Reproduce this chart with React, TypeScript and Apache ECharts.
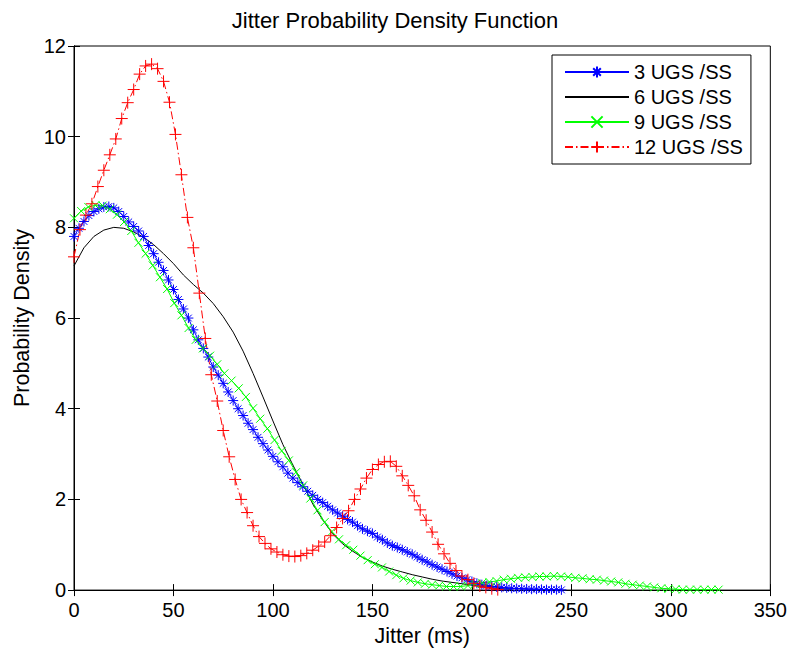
import React, { useEffect, useRef } from "react";
import * as echarts from "echarts";

// Series "3 UGS /SS": x step 2.5 ms starting at 0
const BLUE_STEP = 2.5;
const blueY = [
  7.8, 7.98, 8.13, 8.26, 8.35, 8.41, 8.45, 8.46, 8.43, 8.35,
  8.24, 8.12, 8.02, 7.92, 7.8, 7.6, 7.42, 7.23, 7.05, 6.84,
  6.63, 6.41, 6.2, 6.0, 5.74, 5.52, 5.33, 5.14, 4.92, 4.74,
  4.56, 4.37, 4.18, 4.0, 3.85, 3.68, 3.54, 3.37, 3.23, 3.09,
  2.95, 2.83, 2.72, 2.58, 2.47, 2.37, 2.28, 2.18, 2.09, 2.0,
  1.93, 1.85, 1.77, 1.7, 1.63, 1.56, 1.5, 1.42, 1.35, 1.3,
  1.25, 1.17, 1.11, 1.04, 0.98, 0.94, 0.89, 0.84, 0.79, 0.73,
  0.67, 0.62, 0.56, 0.51, 0.46, 0.41, 0.36, 0.31, 0.27, 0.23,
  0.19, 0.15, 0.12, 0.1, 0.08, 0.07, 0.06, 0.05, 0.04, 0.035,
  0.03, 0.025, 0.02, 0.02, 0.015, 0.01, 0.01, 0.01, 0.005,
];

// Series "6 UGS /SS": x step 5 ms starting at 0
const BLACK_STEP = 5;
const blackY = [
  7.15, 7.55, 7.8, 7.94, 8.0, 7.98, 7.9, 7.78, 7.62, 7.42,
  7.2, 6.95, 6.74, 6.55, 6.32, 6.03, 5.69, 5.27, 4.78, 4.26,
  3.73, 3.21, 2.76, 2.34, 1.9, 1.55, 1.24, 1.02, 0.86, 0.72,
  0.62, 0.53, 0.46, 0.4, 0.34, 0.29, 0.24, 0.2, 0.17, 0.14,
  0.11, 0.08, 0.05, 0.03, 0.02,
];

// Series "9 UGS /SS": x step 3.6 ms starting at 0
const GREEN_STEP = 3.6;
const greenY = [
  8.2, 8.36, 8.45, 8.49, 8.48, 8.4, 8.28, 8.12, 7.92, 7.66,
  7.42, 7.16, 6.9, 6.64, 6.33, 6.06, 5.78, 5.52, 5.33, 5.17,
  4.98, 4.78, 4.62, 4.45, 4.26, 4.01, 3.78, 3.56, 3.31, 3.07,
  2.86, 2.6, 2.31, 2.02, 1.76, 1.5, 1.29, 1.12, 0.99, 0.89,
  0.76, 0.66, 0.57, 0.5, 0.41, 0.33, 0.26, 0.21, 0.17, 0.14,
  0.12, 0.1, 0.08, 0.08, 0.08, 0.1, 0.13, 0.16, 0.18, 0.2,
  0.23, 0.25, 0.27, 0.28, 0.29, 0.3, 0.3, 0.31, 0.3, 0.29,
  0.27, 0.26, 0.24, 0.23, 0.21, 0.19, 0.17, 0.14, 0.12, 0.1,
  0.08, 0.06, 0.04, 0.03, 0.02, 0.01, 0.01, 0.01, 0.01, 0.01,
  0.01,
];

// Series "12 UGS /SS": x step 3 ms starting at 0
const RED_STEP = 3;
const redY = [
  7.35, 7.95, 8.27, 8.52, 8.9, 9.26, 9.6, 9.95, 10.4, 10.75,
  11.04, 11.38, 11.56, 11.6, 11.5, 11.22, 10.76, 10.05, 9.16, 8.22,
  7.55, 6.55, 5.55, 4.75, 4.17, 3.52, 2.94, 2.44, 2.0, 1.71,
  1.42, 1.18, 1.03, 0.91, 0.84, 0.78, 0.75, 0.74, 0.76, 0.81,
  0.88, 0.97, 1.06, 1.2, 1.38, 1.58, 1.75, 2.0, 2.23, 2.47,
  2.66, 2.77, 2.83, 2.84, 2.73, 2.52, 2.31, 2.08, 1.77, 1.54,
  1.28, 1.01, 0.8, 0.59, 0.43, 0.31, 0.23, 0.15, 0.09, 0.06,
  0.03, 0.01,
];

const seriesNames = ["3 UGS /SS", "6 UGS /SS", "9 UGS /SS", "12 UGS /SS"];
const xTicks = { min: 0, max: 350, interval: 50 };
const yTicks = { min: 0, max: 12, interval: 2 };

const FONT = '"Liberation Sans", Arial, Helvetica, sans-serif';
const FS = 20;

const ASTERISK = "path://M5 0L5 10M0 5L10 5M1.6 1.6L8.4 8.4M1.6 8.4L8.4 1.6";
const PLUS = "path://M5 0L5 10M0 5L10 5";
const CROSS = "path://M0 0L10 10M0 10L10 0";

function toPairs(ys: number[], step: number) {
  return ys.map((v, i) => [+(i * step).toFixed(3), v]);
}

export default function App() {
  const ref = useRef<HTMLDivElement>(null);
  useEffect(() => {
    if (!ref.current) return;
    const chart = echarts.init(ref.current, null, { renderer: "svg" });
    const axisCommon = {
      axisLine: { show: true, lineStyle: { color: "#000", width: 1 } },
      axisTick: { show: true, inside: true, length: 6, lineStyle: { color: "#000" } },
      splitLine: { show: false },
    };
    chart.setOption({
      animation: false,
      backgroundColor: "#fff",
      textStyle: { fontFamily: FONT },
      title: {
        text: "Jitter Probability Density Function",
        left: "center",
        top: 9,
        padding: 0,
        textStyle: { fontFamily: FONT, fontSize: 22, fontWeight: "normal", color: "#000" },
      },
      grid: { left: 74, right: 19, top: 46, bottom: 60, show: true, borderColor: "#000", borderWidth: 1, containLabel: false },
      legend: {
        orient: "vertical",
        left: 552,
        top: 55,
        padding: [7, 8, 7, 12],
        borderColor: "#000",
        borderWidth: 1,
        backgroundColor: "#fff",
        itemWidth: 64,
        itemHeight: 14,
        itemGap: 5,
        textStyle: { fontFamily: FONT, fontSize: FS, color: "#000", lineHeight: 20 },
        data: [
          { name: seriesNames[0] },
          { name: seriesNames[1], itemStyle: { opacity: 0 } },
          { name: seriesNames[2] },
          { name: seriesNames[3] },
        ],
      },
      xAxis: [
        {
          type: "value",
          ...xTicks,
          ...axisCommon,
          position: "bottom",
          name: "Jitter (ms)",
          nameLocation: "middle",
          nameGap: 34,
          nameTextStyle: { fontFamily: FONT, fontSize: 21.5, color: "#000" },
          axisLabel: { fontFamily: FONT, fontSize: FS, color: "#000", margin: 10 },
        },
        {
          type: "value",
          ...xTicks,
          ...axisCommon,
          position: "top",
          axisLabel: { show: false },
        },
      ],
      yAxis: [
        {
          type: "value",
          ...yTicks,
          ...axisCommon,
          position: "left",
          name: "Probability Density",
          nameLocation: "middle",
          nameGap: 39,
          nameTextStyle: { fontFamily: FONT, fontSize: 21.5, color: "#000" },
          axisLabel: { fontFamily: FONT, fontSize: FS, color: "#000", margin: 8 },
        },
        {
          type: "value",
          ...yTicks,
          ...axisCommon,
          position: "right",
          axisLabel: { show: false },
        },
      ],
      series: [
        {
          name: seriesNames[0],
          type: "line",
          data: toPairs(blueY, BLUE_STEP),
          symbol: ASTERISK,
          symbolSize: 10,
          itemStyle: { color: "rgba(0,0,0,0)", borderColor: "#0000ff", borderWidth: 1 },
          lineStyle: { color: "#0000ff", width: 1 },
        },
        {
          name: seriesNames[1],
          type: "line",
          data: toPairs(blackY, BLACK_STEP),
          symbol: "none",
          itemStyle: { color: "#000" },
          lineStyle: { color: "#000", width: 1 },
        },
        {
          name: seriesNames[2],
          type: "line",
          data: toPairs(greenY, GREEN_STEP),
          symbol: CROSS,
          symbolSize: 8,
          itemStyle: { color: "rgba(0,0,0,0)", borderColor: "#00ff00", borderWidth: 1 },
          lineStyle: { color: "#00ff00", width: 1 },
        },
        {
          name: seriesNames[3],
          type: "line",
          data: toPairs(redY, RED_STEP),
          symbol: PLUS,
          symbolSize: 12,
          itemStyle: { color: "rgba(0,0,0,0)", borderColor: "#ff0000", borderWidth: 1 },
          lineStyle: { color: "#ff0000", width: 1, type: [8, 3, 1.5, 3] },
        },
      ],
    });
    return () => chart.dispose();
  }, []);
  return (
    <div
      ref={ref}
      style={{ position: "fixed", left: 0, top: 0, width: 790, height: 652, background: "#fff" }}
    />
  );
}
